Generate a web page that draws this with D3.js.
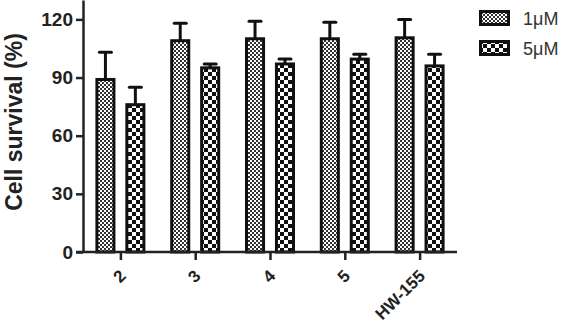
<!DOCTYPE html>
<html>
<head>
<meta charset="utf-8">
<script src="https://cdn.jsdelivr.net/npm/d3@7"></script>
<style>
  body { margin: 0; background: #fff; }
  svg { display: block; font-family: "Liberation Sans", Arial, sans-serif; }
</style>
</head>
<body>
<svg id="chart"></svg>
<script>
// chart data
const categories = ["2", "3", "4", "5", "HW-155"];
const seriesNames = ["1\u03bcM", "5\u03bcM"];
const survival1uM = [89, 109, 110, 110, 110.5];
const error1uM = [14, 9, 9, 8.5, 9.5];
const survival5uM = [76, 95, 97, 99.5, 96];
const error5uM = [9, 2, 2.5, 2.5, 6];
const yTicks = [0, 30, 60, 90, 120];

const width = 562, height = 326;
const svg = d3.select("#chart").attr("width", width).attr("height", height);

// patterns for the two series
const defs = svg.append("defs");
const fine = defs.append("pattern").attr("id", "fine")
  .attr("patternUnits", "userSpaceOnUse").attr("width", 4).attr("height", 4);
fine.append("rect").attr("width", 4).attr("height", 4).attr("fill", "#fff");
fine.append("rect").attr("width", 2).attr("height", 2).attr("fill", "#333");
fine.append("rect").attr("x", 2).attr("y", 2).attr("width", 2).attr("height", 2).attr("fill", "#333");

const coarse = defs.append("pattern").attr("id", "coarse")
  .attr("patternUnits", "userSpaceOnUse").attr("width", 8).attr("height", 8);
coarse.append("rect").attr("width", 8).attr("height", 8).attr("fill", "#fff");
coarse.append("rect").attr("width", 4).attr("height", 4).attr("fill", "#111");
coarse.append("rect").attr("x", 4).attr("y", 4).attr("width", 4).attr("height", 4).attr("fill", "#111");

const fills = ["url(#fine)", "url(#coarse)"];

// scales
const x = d3.scalePoint().domain(categories).range([83, 457]).padding(0.5);
const xSub = d3.scaleBand().domain(seriesNames).range([-25, 25]).paddingInner(0.33);
const y = d3.scaleLinear().domain([0, 130]).range([252, 0]);

// table built from the arrays
const rows = [];
categories.forEach((c, i) => {
  rows.push({ cat: c, s: seriesNames[0], v: survival1uM[i], e: error1uM[i], k: 0 });
  rows.push({ cat: c, s: seriesNames[1], v: survival5uM[i], e: error5uM[i], k: 1 });
});

// error bars (upper only)
const eb = svg.append("g");
eb.selectAll("line.stem").data(rows).enter().append("line")
  .attr("x1", d => x(d.cat) + xSub(d.s) + xSub.bandwidth() / 2)
  .attr("x2", d => x(d.cat) + xSub(d.s) + xSub.bandwidth() / 2)
  .attr("y1", d => y(d.v)).attr("y2", d => y(d.v + d.e))
  .attr("stroke", "#111").attr("stroke-width", 3);
eb.selectAll("line.cap").data(rows).enter().append("line")
  .attr("x1", d => x(d.cat) + xSub(d.s) + xSub.bandwidth() / 2 - 6)
  .attr("x2", d => x(d.cat) + xSub(d.s) + xSub.bandwidth() / 2 + 6)
  .attr("y1", d => y(d.v + d.e)).attr("y2", d => y(d.v + d.e))
  .attr("stroke", "#111").attr("stroke-width", 3).attr("stroke-linecap", "round");

// bars
svg.append("g").selectAll("rect").data(rows).enter().append("rect")
  .attr("x", d => x(d.cat) + xSub(d.s) + 1.5)
  .attr("y", d => y(d.v))
  .attr("width", xSub.bandwidth() - 3)
  .attr("height", d => y(0) - y(d.v))
  .attr("fill", d => fills[d.k])
  .attr("stroke", "#111").attr("stroke-width", 3);

// y axis
const yAxis = svg.append("g").attr("transform", "translate(83,0)")
  .call(d3.axisLeft(y).tickValues(yTicks).tickSize(7).tickPadding(3).tickSizeOuter(0));
yAxis.select(".domain").attr("stroke", "#222").attr("stroke-width", 2.5);
yAxis.selectAll(".tick line").attr("stroke", "#222").attr("stroke-width", 2.5);
yAxis.selectAll(".tick text").attr("font-size", 19).attr("font-weight", "bold")
  .attr("fill", "#222").attr("font-family", "Liberation Sans, Arial, sans-serif");

// x axis
const xAxis = svg.append("g").attr("transform", "translate(0,252)")
  .call(d3.axisBottom(x).tickSize(8).tickSizeOuter(0));
xAxis.select(".domain").attr("stroke", "#222").attr("stroke-width", 2.5)
  .attr("d", "M76,0H457");
xAxis.selectAll(".tick line").attr("stroke", "#222").attr("stroke-width", 2.5);
xAxis.selectAll(".tick text")
  .attr("font-size", 17).attr("font-weight", "bold").attr("fill", "#222")
  .attr("font-family", "Liberation Sans, Arial, sans-serif")
  .attr("text-anchor", "end").attr("dy", null).attr("y", 0)
  .attr("transform", "translate(6,25) rotate(-45)");

// y axis title
svg.append("text")
  .attr("transform", "translate(22,122) rotate(-90)")
  .attr("text-anchor", "middle")
  .attr("font-size", 23).attr("font-weight", "bold").attr("fill", "#222")
  .text("Cell survival (%)");

// legend
const legend = svg.append("g");
seriesNames.forEach((s, i) => {
  const g = legend.append("g").attr("transform", `translate(479,${10 + i * 30})`);
  g.append("rect").attr("x", 1.5).attr("y", 1.5).attr("width", 28).attr("height", 13)
    .attr("fill", fills[i]).attr("stroke", "#111").attr("stroke-width", 3);
  g.append("text").attr("x", 44).attr("y", 15)
    .attr("font-size", 18).attr("fill", "#333").text(s);
});
</script>
</body>
</html>
